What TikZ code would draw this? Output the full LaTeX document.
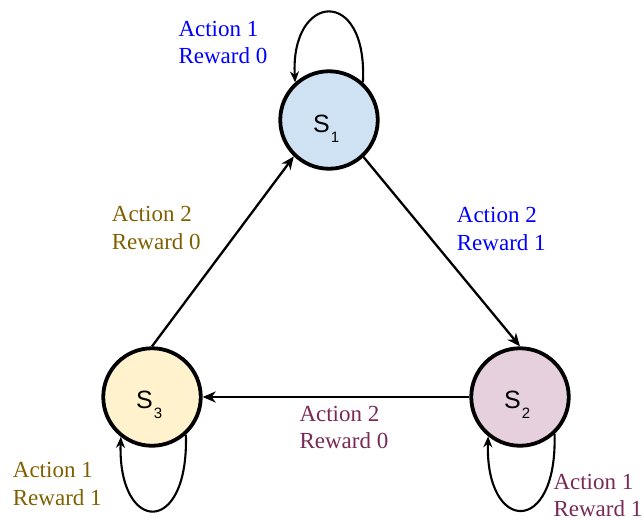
\documentclass[tikz,border=0pt]{standalone}
\usepackage{fontspec}
\setmainfont{Liberation Serif}
\newfontfamily\statefont{Liberation Sans}
\usetikzlibrary{arrows.meta}

\definecolor{fillone}{HTML}{CFE2F3}
\definecolor{filltwo}{HTML}{E6D0DE}
\definecolor{fillthree}{HTML}{FFF2CC}
\definecolor{txtblue}{HTML}{0000FF}
\definecolor{txtgold}{HTML}{7F6000}
\definecolor{txtplum}{HTML}{782A57}

\begin{document}
\begin{tikzpicture}[x=1pt,y=-1pt,
  state/.style={circle,draw=black,line width=3.8pt,minimum size=97.5pt,inner sep=0pt},
  conn/.style={line width=2.3pt,-{Stealth[length=13pt,width=11pt,inset=4pt]}},
  selfloop/.style={line width=2.1pt,-{Stealth[length=11pt,width=9pt,inset=3.5pt]}},
  lbl/.style={anchor=base west,inner sep=0pt,font=\fontsize{23}{27}\selectfont},
  sname/.style={anchor=base west,inner sep=0pt,font=\statefont\fontsize{25}{25}\selectfont},
  sidx/.style={anchor=base west,inner sep=0pt,font=\statefont\fontsize{15}{15}\selectfont}]
\useasboundingbox (0,0) rectangle (644,519);

% states
\node[state,fill=fillone]   (s1) at (329,120) {};
\node[state,fill=filltwo]   (s2) at (520,397) {};
\node[state,fill=fillthree] (s3) at (152,397) {};

% state names with subscripts
\node[sname] (s1n) at ([xshift=-16pt,yshift=-12pt]s1.center) {S};
\node[sidx]  (s1i) at ([xshift=0.5pt,yshift=-10pt]s1n.base east) {1};
\node[sname] (s2n) at ([xshift=-16pt,yshift=-11.5pt]s2.center) {S};
\node[sidx]  (s2i) at ([xshift=0.5pt,yshift=-10pt]s2n.base east) {2};
\node[sname] (s3n) at ([xshift=-16pt,yshift=-11.5pt]s3.center) {S};
\node[sidx]  (s3i) at ([xshift=0.5pt,yshift=-10pt]s3n.base east) {3};

% transitions between states
\draw[conn] (s3.north) -- (s1.226);
\draw[conn] (s1.-47) -- (s2.north);
\draw[conn] (s2.west) -- (s3.east);

% self transitions
\draw[selfloop] (s1.48) .. controls +(5,-97) and +(-5,-90) .. (s1.132);
\draw[selfloop] (s2.-47) .. controls +(3,103) and +(-3,97) .. (s2.-129);
\draw[selfloop] (s3.-48) .. controls +(3,103) and +(-3,97) .. (s3.-128);

% action / reward labels
\node[lbl,text=txtblue] (a11) at (178.3,36.7) {Action 1};
\node[lbl,text=txtblue] (r11) at (178.3,63.3) {Reward 0};

\node[lbl,text=txtgold] (a32) at (111.7,221.7) {Action 2};
\node[lbl,text=txtgold] (r32) at (111.7,249.3) {Reward 0};

\node[lbl,text=txtblue] (a12) at (456.7,222.7) {Action 2};
\node[lbl,text=txtblue] (r12) at (456.7,250.3) {Reward 1};

\node[lbl,text=txtplum] (a22) at (299.3,421.7) {Action 2};
\node[lbl,text=txtplum] (r22) at (299.3,448.5) {Reward 0};

\node[lbl,text=txtplum] (a21) at (553.3,489.5) {Action 1};
\node[lbl,text=txtplum] (r21) at (553.3,516.5) {Reward 1};

\node[lbl,text=txtgold] (a31) at (12.7,477.7) {Action 1};
\node[lbl,text=txtgold] (r31) at (12.7,505) {Reward 1};
\end{tikzpicture}
\end{document}
